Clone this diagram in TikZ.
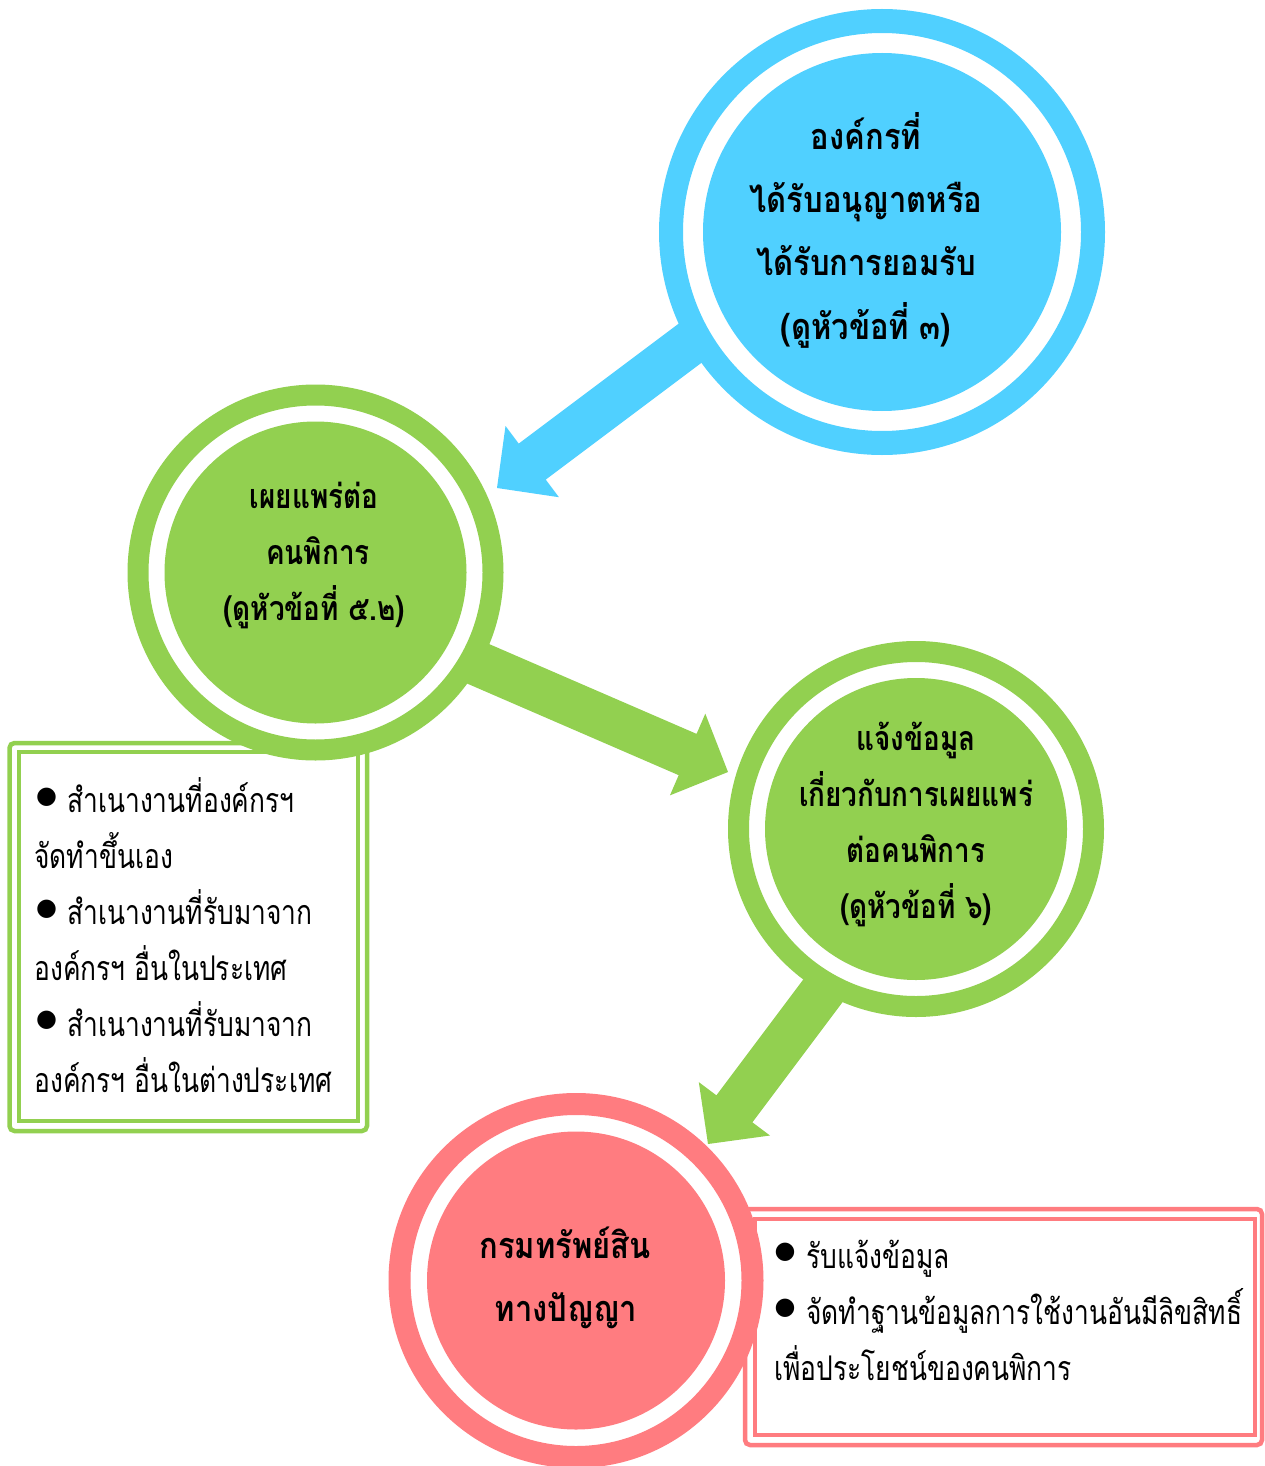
\documentclass[tikz,border=0pt]{standalone}
\usepackage{fontspec}
\usetikzlibrary{calc}
\newfontfamily\thaibig[Script=Thai,FakeStretch=0.86]{Loma}
\newfontfamily\thaimid[Script=Thai,FakeStretch=0.82]{Loma}
\newfontfamily\thaireg[Script=Thai,FakeStretch=0.775]{Loma}
\newfontfamily\symf{DejaVu Sans}
\definecolor{cblue}{RGB}{80,208,255}
\definecolor{cgreen}{RGB}{146,208,80}
\definecolor{cpink}{RGB}{255,124,128}
% fat arrow: colour, start coordinate, tip coordinate, helper name
\newcommand\fatarrow[4]{%
  \coordinate (#4) at ($(#3)!22pt!(#2)$);
  \fill[#1] ($(#2)!11.25pt!90:(#3)$) -- ($(#4)!11.25pt!90:(#3)$) -- ($(#4)!22.25pt!90:(#3)$)
    -- (#3) -- ($(#4)!22.25pt!-90:(#3)$) -- ($(#4)!11.25pt!-90:(#3)$) -- ($(#2)!11.25pt!-90:(#3)$) -- cycle;}
\begin{document}
\begin{tikzpicture}[x=0.5pt,y=-0.5pt,
  ring/.style={circle, fill=white, inner sep=0pt, outer sep=0pt},
  disc/.style={circle, inner sep=0pt, outer sep=0pt},
  bigtxt/.style={font=\thaibig\bfseries\fontsize{18pt}{22pt}\selectfont, inner sep=0pt, anchor=base},
  midtxt/.style={font=\thaimid\bfseries\fontsize{17pt}{21pt}\selectfont, inner sep=0pt, anchor=base},
  boxtxt/.style={font=\thaireg\fontsize{17pt}{21pt}\selectfont, inner sep=0pt, anchor=base west},
  bul/.style={font=\symf\fontsize{12pt}{12pt}\selectfont, inner sep=0pt},
  outerframe/.style={line width=2.25pt, rounded corners=2.5pt},
  innerframe/.style={line width=2pt}]
\fill[white] (0,0) rectangle (1264,1466);
\useasboundingbox (0,0) rectangle (1264,1466);

% boxes (beneath circles)
\draw[outerframe, cgreen] (9.5,743) rectangle (367,1131);
\draw[innerframe, cgreen] (18.5,751.5) rectangle (357.5,1121);
\draw[outerframe, cpink] (745,1209) rectangle (1262,1445);
\draw[innerframe, cpink] (755,1219) rectangle (1255,1435);

% arrows
\coordinate (a1s) at (753,296);  \coordinate (a1t) at (497,488);
\coordinate (a2s) at (407,633);  \coordinate (a2t) at (728,772);
\coordinate (a3s) at (918,864);  \coordinate (a3t) at (708,1144);
\fatarrow{cblue}{a1s}{a1t}{a1b}
\fatarrow{cgreen}{a2s}{a2t}{a2b}
\fatarrow{cgreen}{a3s}{a3t}{a3b}

% circles
\node[ring, draw=cblue, line width=12pt, minimum size=211pt] (orgR) at (882,232) {};
\node[disc, fill=cblue, minimum size=179pt] (org) at (882,232) {};
\node[ring, draw=cgreen, line width=10.5pt, minimum size=177.5pt] (pubR) at (315.5,572.5) {};
\node[disc, fill=cgreen, minimum size=151pt] (pub) at (315.5,572.5) {};
\node[ring, draw=cgreen, line width=10.5pt, minimum size=177.5pt] (notR) at (916,829) {};
\node[disc, fill=cgreen, minimum size=151pt] (not) at (916,829) {};
\node[ring, draw=cpink, line width=11pt, minimum size=176.5pt] (dipR) at (576,1280.5) {};
\node[disc, fill=cpink, minimum size=149pt] (dip) at (576,1280.5) {};

% circle texts
\node[bigtxt] (o1) at (866,150) {องค์กรที่};
\node[bigtxt] (o2) at (866,213) {ได้รับอนุญาตหรือ};
\node[bigtxt] (o3) at (866,276) {ได้รับการยอมรับ};
\node[bigtxt] (o4) at (866,339) {(ดูหัวข้อที่ ๓)};

\node[midtxt] (p1) at (314,508) {เผยแพร่ต่อ};
\node[midtxt] (p2) at (318,564) {คนพิการ};
\node[midtxt] (p3) at (314,620) {(ดูหัวข้อที่ ๕.๒)};

\node[midtxt] (n1) at (916,750) {แจ้งข้อมูล};
\node[midtxt] (n2) at (916,806) {เกี่ยวกับการเผยแพร่};
\node[midtxt] (n3) at (916,862) {ต่อคนพิการ};
\node[midtxt] (n4) at (916,918) {(ดูหัวข้อที่ ๖)};

\node[bigtxt] (d1) at (565,1258) {กรมทรัพย์สิน};
\node[bigtxt] (d2) at (566,1321) {ทางปัญญา};

% green box text
\node[bul] (gb1) at (46.5,797.5) {●};
\node[bul] (gb2) at (46.5,909.5) {●};
\node[bul] (gb3) at (46.5,1020.5) {●};
\node[boxtxt] (g1) at (67,812) {สำเนางานที่องค์กรฯ};
\node[boxtxt] (g2) at (34,868) {จัดทำขึ้นเอง};
\node[boxtxt] (g3) at (67,924) {สำเนางานที่รับมาจาก};
\node[boxtxt] (g4) at (34,980) {องค์กรฯ อื่นในประเทศ};
\node[boxtxt] (g5) at (67,1036) {สำเนางานที่รับมาจาก};
\node[boxtxt] (g6) at (34,1092) {องค์กรฯ อื่นในต่างประเทศ};

% pink box text
\node[bul] (pb1) at (785,1252) {●};
\node[bul] (pb2) at (785,1308) {●};
\node[boxtxt] (k1) at (806,1268) {รับแจ้งข้อมูล};
\node[boxtxt] (k2) at (806,1324) {จัดทำฐานข้อมูลการใช้งานอันมีลิขสิทธิ์};
\node[boxtxt] (k3) at (774,1380) {เพื่อประโยชน์ของคนพิการ};
\end{tikzpicture}
\end{document}
